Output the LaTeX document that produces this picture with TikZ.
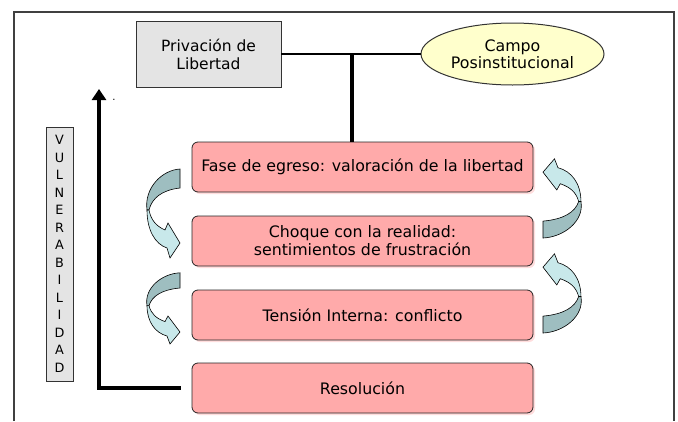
\documentclass[tikz,border=0pt]{standalone}
\usepackage{fontspec}
\setmainfont{DejaVu Sans}
\usetikzlibrary{shapes.geometric,arrows.meta,shadows}

\definecolor{boxpink}{RGB}{255,170,170}
\definecolor{boxgray}{RGB}{228,228,228}
\definecolor{ovalyellow}{RGB}{255,255,204}
\definecolor{arrowback}{RGB}{158,190,192}
\definecolor{arrowfront}{RGB}{200,232,234}
\definecolor{framegray}{RGB}{64,64,64}

\tikzset{
  fase/.style={rectangle,rounded corners=6pt,draw=black!85,line width=.8pt,fill=boxpink,
    minimum width=341pt,minimum height=50pt,inner sep=0pt,align=center,
    font=\fontsize{15.8}{18}\selectfont,
    drop shadow={shadow xshift=2pt,shadow yshift=-2pt,fill=boxpink!40,opacity=1}},
  privbox/.style={rectangle,draw=black!80,line width=.8pt,fill=boxgray,
    minimum width=145pt,minimum height=66pt,inner sep=0pt,align=center,
    font=\fontsize{15.5}{18}\selectfont},
  campo/.style={ellipse,draw=black!80,line width=1pt,fill=ovalyellow,
    minimum width=183pt,minimum height=62pt,inner sep=0pt,align=center,
    font=\fontsize{15.8}{17}\selectfont},
  vulbox/.style={rectangle,draw=black!80,line width=.8pt,fill=boxgray,
    minimum width=27pt,minimum height=254pt,inner sep=0pt,align=center,
    font=\fontsize{12.8}{17.5}\selectfont},
  pics/curvearrow/.style={code={
    \filldraw[fill=arrowback,draw=black,line width=.6pt]
      (0,-9) -- (0,10) .. controls (-18,12) and (-28,20) .. (-31,32)
      -- (-33,32) .. controls (-36,10) and (-18,-8) .. (0,-9) -- cycle;
    \filldraw[fill=arrowfront,draw=black,line width=.6pt]
      (-33,32) .. controls (-33,52) and (-25,66) .. (-13,70) -- (-10,80) -- (0,65)
      -- (-12,45) -- (-15,52) .. controls (-24,48) and (-29,42) .. (-31,32) -- cycle;
  }}
}

\begin{document}
\begin{tikzpicture}[x=1pt,y=-1pt]
  \useasboundingbox (0,0) rectangle (678,421);
  \fill[white] (0,0) rectangle (678,421);
  \draw[framegray,line width=1.3pt] (14,421) -- (14,12) -- (674,12) -- (674,421);

  \node[privbox] (priv) at (208.5,54) {Privación de\\Libertad};
  \node[campo] (campo) at (512.5,54) {Campo\\Posinstitucional};
  \node[fase] (f1) at (362.5,167) {Fase de egreso: valoración de la libertad};
  \node[fase] (f2) at (362.5,241) {Choque con la realidad:\\sentimientos de frustración};
  \node[fase] (f3) at (362.5,315) {Tensión Interna: conflicto};
  \node[fase] (f4) at (362.5,388) {Resolución};
  \node[vulbox] (vul) at (59.5,254) {V\\U\\L\\N\\E\\R\\A\\B\\I\\L\\I\\D\\A\\D};
  \node[inner sep=0pt,font=\fontsize{10}{12}\selectfont] (dot) at (114,100) {.};

  \coordinate (tee) at (352,54);
  \coordinate (up) at (99,89);

  \draw[line width=2.2pt] (priv) -- (campo);
  \draw[line width=4.5pt] (tee) -- (tee |- f1.north);
  \draw[line width=4.5pt,-{Triangle[length=11pt,width=14pt]}]
    ([xshift=-11pt]f4.west) -| (up);

  % curved arrows between the phases
  \pic at (180,178) {curvearrow};
  \pic[yscale=.8] at (180,280) {curvearrow};
  \pic[rotate=180,xscale=1.15,yscale=.89] at (543,230) {curvearrow};
  \pic[rotate=180,xscale=1.15,yscale=.89] at (543,325) {curvearrow};

\end{tikzpicture}
\end{document}
